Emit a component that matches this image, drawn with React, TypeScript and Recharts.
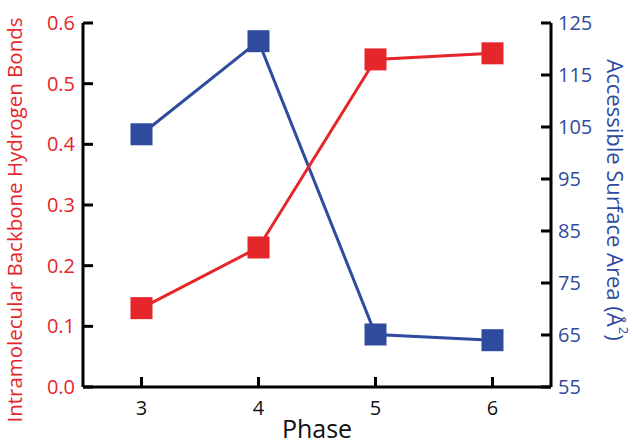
import { LineChart, Line, XAxis, YAxis } from 'recharts';

const phases = [3, 4, 5, 6];
const hbonds = [0.13, 0.23, 0.54, 0.55];
const surfaceArea = [103.6, 121.5, 65.1, 64.0];

const leftTicks = [0, 0.1, 0.2, 0.3, 0.4, 0.5, 0.6];
const rightTicks = [55, 65, 75, 85, 95, 105, 115, 125];

const RED = '#e5262b';
const BLUE = '#2f4b9e';
const FONT = '"Open Sans", sans-serif';

const data = phases.map((phase, i) => ({
  phase,
  hbonds: hbonds[i],
  area: surfaceArea[i],
}));

function squareDot(color: string) {
  return (props: any) => {
    const { cx, cy, index } = props;
    return <rect key={`dot-${index}`} x={cx - 11} y={cy - 11} width={22} height={22} fill={color} />;
  };
}

function LeftTitle(props: any) {
  const { viewBox } = props;
  const x = viewBox.x + 14;
  const y = viewBox.y + viewBox.height / 2 + 15;
  return (
    <text
      x={x}
      y={y}
      transform={`rotate(-90, ${x}, ${y})`}
      textAnchor="middle"
      dominantBaseline="central"
      fill={RED}
      fontSize={20.5}
      fontFamily={FONT}
    >
      Intramolecular Backbone Hydrogen Bonds
    </text>
  );
}

function RightTitle(props: any) {
  const { viewBox } = props;
  const x = viewBox.x + viewBox.width - 17;
  const y = viewBox.y + viewBox.height / 2 - 5;
  return (
    <text
      x={x}
      y={y}
      transform={`rotate(90, ${x}, ${y})`}
      textAnchor="middle"
      dominantBaseline="central"
      fill={BLUE}
      fontSize={22}
      fontFamily={FONT}
    >
      Accessible Surface Area (Å<tspan dy={-8} fontSize={13}>2</tspan>
      <tspan dy={8}>)</tspan>
    </text>
  );
}

export default function App() {
  const axisLine = { stroke: '#000', strokeWidth: 3 };
  const tickLine = { stroke: '#000', strokeWidth: 3 };
  return (
    <div style={{ position: 'absolute', left: 0, top: 0, background: '#fff' }}>
      <LineChart width={633} height={444} data={data} margin={{ top: 23, right: 0, bottom: 0, left: 0 }}>
        <XAxis
          dataKey="phase"
          type="number"
          domain={[2.5, 6.5]}
          ticks={phases}
          height={57}
          axisLine={axisLine}
          tickLine={tickLine}
          tickSize={-10}
          tickMargin={24}
          tick={{ fill: '#111', fontSize: 20, fontFamily: FONT }}
          label={{ value: 'Phase', position: 'insideBottom', offset: 6, fill: '#111', fontSize: 25, fontFamily: FONT }}
        />
        <YAxis
          yAxisId="left"
          domain={[0, 0.6]}
          ticks={leftTicks}
          width={83}
          axisLine={axisLine}
          tickLine={tickLine}
          tickSize={-10}
          tickMargin={18}
          tickFormatter={(v: number) => v.toFixed(1)}
          tick={{ fill: RED, fontSize: 20, fontFamily: FONT }}
          label={<LeftTitle />}
        />
        <YAxis
          yAxisId="right"
          orientation="right"
          domain={[55, 125]}
          ticks={rightTicks}
          width={82}
          axisLine={axisLine}
          tickLine={tickLine}
          tickSize={-10}
          tickMargin={17}
          tick={{ fill: BLUE, fontSize: 20, fontFamily: FONT }}
          label={<RightTitle />}
        />
        <Line
          yAxisId="right"
          dataKey="area"
          stroke={BLUE}
          strokeWidth={3}
          dot={squareDot(BLUE)}
          isAnimationActive={false}
        />
        <Line
          yAxisId="left"
          dataKey="hbonds"
          stroke={RED}
          strokeWidth={3}
          dot={squareDot(RED)}
          isAnimationActive={false}
        />
      </LineChart>
    </div>
  );
}
